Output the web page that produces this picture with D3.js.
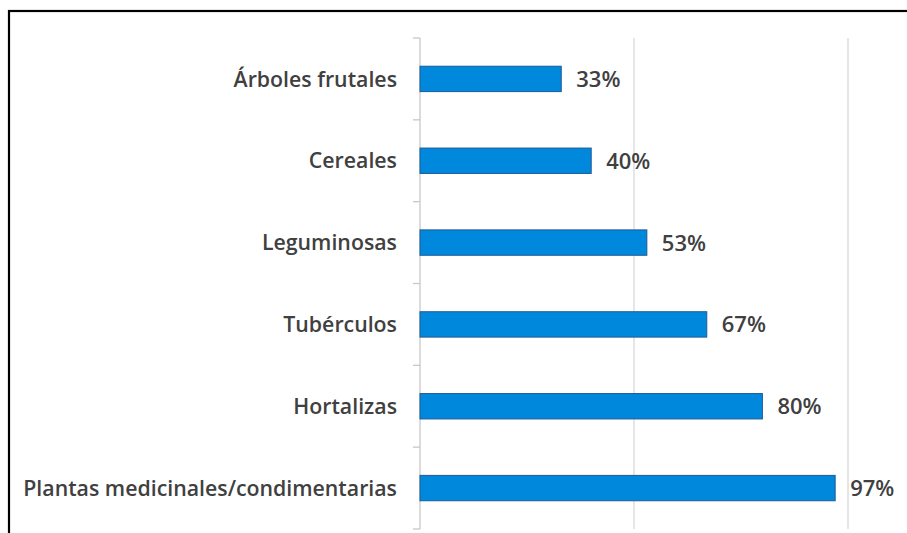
<!DOCTYPE html>
<html>
<head>
<meta charset="utf-8">
<script src="https://cdn.jsdelivr.net/npm/d3@7"></script>
<style>
body{margin:0;background:#fff}
.label{font-family:"Open Sans",sans-serif;font-weight:600;fill:#404040}
</style>
</head>
<body>
<svg id="graph"></svg>
<script>
var categories = ["Árboles frutales","Cereales","Leguminosas","Tubérculos","Hortalizas","Plantas medicinales/condimentarias"]
var percents = [33,40,53,67,80,97]
var gridTicks = [0,50,100]

var screen = {width:907,height:533}
var margins = {left:420,right:59,top:38,bottom:4}

var graph =
    {
        width:screen.width-margins.left-margins.right,
        height:screen.height-margins.top-margins.bottom
    };

var svg = d3.select("#graph")
    .attr("width",screen.width)
    .attr("height",screen.height)
    .style("display","block")

// outer frame (right and bottom edges fall outside the picture)
svg.append("rect")
    .attr("x",9)
    .attr("y",11)
    .attr("width",960)
    .attr("height",560)
    .attr("fill","none")
    .attr("stroke","#000")
    .attr("stroke-width",2.2)

var target = svg.append("g")
    .attr("transform","translate("+margins.left+","+margins.top+")")

var xScale = d3.scaleLinear()
    .domain([0,100])
    .range([0,graph.width])

var yScale = d3.scaleBand()
    .domain(categories)
    .range([0,graph.height])
    .paddingInner(0.69)
    .paddingOuter(0.345)

// gridlines
target.selectAll("line.grid")
    .data(gridTicks.slice(1))
    .enter()
    .append("line")
    .attr("x1",function(d){return xScale(d)})
    .attr("x2",function(d){return xScale(d)})
    .attr("y1",0)
    .attr("y2",graph.height)
    .attr("stroke","#d9d9d9")
    .attr("stroke-width",1.3)

// category axis
target.append("line")
    .attr("x1",0).attr("x2",0)
    .attr("y1",0).attr("y2",graph.height)
    .attr("stroke","#c8c8c8")
    .attr("stroke-width",1.3)

// ticks between categories
var step = yScale.step()
var bounds = categories.map(function(c){return yScale(c)+yScale.bandwidth()/2-step/2})
bounds.push(bounds[bounds.length-1]+step)
target.selectAll("line.tick")
    .data(bounds)
    .enter()
    .append("line")
    .attr("x1",-7).attr("x2",0)
    .attr("y1",function(d){return d})
    .attr("y2",function(d){return d})
    .attr("stroke","#c8c8c8")
    .attr("stroke-width",1.3)

// bars
var data = categories.map(function(c,i){return {cat:c,pct:percents[i]}})

target.selectAll("rect.bar")
    .data(data)
    .enter()
    .append("rect")
    .attr("class","bar")
    .attr("x",0)
    .attr("y",function(d){return yScale(d.cat)})
    .attr("width",function(d){return xScale(d.pct)})
    .attr("height",yScale.bandwidth())
    .attr("fill","#0088dd")
    .attr("stroke","#1d5a96")
    .attr("stroke-width",1)

// value labels
target.selectAll("text.value")
    .data(data)
    .enter()
    .append("text")
    .classed("label",true)
    .attr("x",function(d){return xScale(d.pct)+15})
    .attr("y",function(d){return yScale(d.cat)+yScale.bandwidth()/2})
    .attr("dy","0.36em")
    .attr("font-size",22)
    .text(function(d){return d.pct+"%"})

// category labels
target.selectAll("text.cat")
    .data(categories)
    .enter()
    .append("text")
    .classed("label",true)
    .attr("x",-23)
    .attr("y",function(d){return yScale(d)+yScale.bandwidth()/2})
    .attr("dy","0.36em")
    .attr("text-anchor","end")
    .attr("font-size",21.3)
    .text(function(d){return d})
</script>
</body>
</html>
